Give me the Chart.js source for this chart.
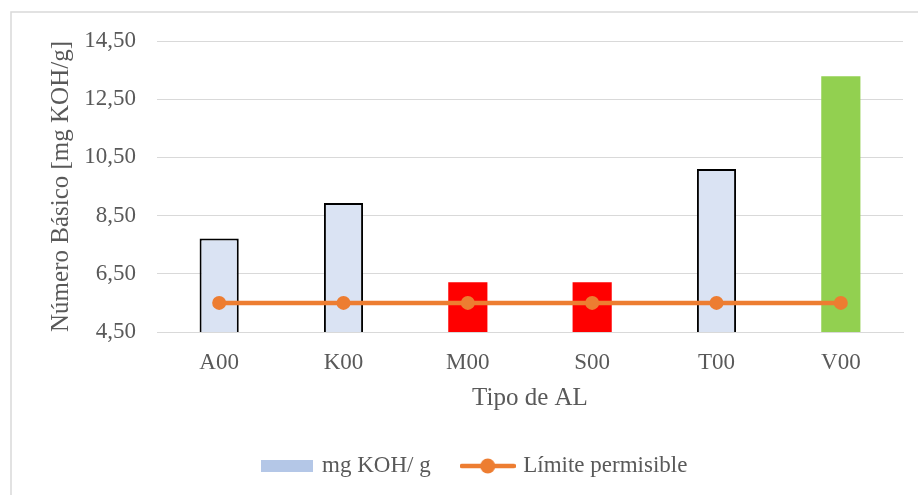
<!DOCTYPE html>
<html>
<head>
<meta charset="utf-8">
<title>Número Básico por tipo de AL</title>
<script src="https://cdn.jsdelivr.net/npm/chart.js@4/dist/chart.umd.min.js"></script>
<style>
  html, body { margin: 0; padding: 0; background: #ffffff; }
  canvas { display: block; }
</style>
</head>
<body>
<canvas id="chart" width="918" height="495"></canvas>
<script>
// Categories and measured values (mg KOH/g)
const categories = ['A00', 'K00', 'M00', 'S00', 'T00', 'V00'];
const basicNumber = [7.71, 8.93, 6.21, 6.21, 10.10, 13.29];
const permissibleLimit = [5.5, 5.5, 5.5, 5.5, 5.5, 5.5];
const yTicks = [4.5, 6.5, 8.5, 10.5, 12.5, 14.5];

// Per-bar styling
const barFill = ['#DAE3F3', '#DAE3F3', '#FF0000', '#FF0000', '#DAE3F3', '#92D050'];
const barEdge = ['#000000', '#000000', '#FF0000', '#FF0000', '#000000', '#92D050'];
const barEdgeWidth = [2, 2, 0, 0, 2, 0];

const FONT = '"Liberation Serif", "Times New Roman", serif';
const TEXT = '#595959';
const GRID = '#D9D9D9';
const ORANGE = '#ED7D31';

// Legend swatches
function makeBarSwatch() {
  const c = document.createElement('canvas');
  c.width = 52; c.height = 12;
  const g = c.getContext('2d');
  g.fillStyle = '#B4C7E7';
  g.fillRect(0, 0, 52, 12);
  return c;
}
function makeLineSwatch() {
  const c = document.createElement('canvas');
  c.width = 56; c.height = 16;
  const g = c.getContext('2d');
  g.strokeStyle = ORANGE;
  g.lineWidth = 4.5;
  g.lineCap = 'round';
  g.beginPath();
  g.moveTo(2, 8); g.lineTo(54, 8);
  g.stroke();
  g.fillStyle = ORANGE;
  g.beginPath();
  g.arc(28, 8, 7.5, 0, Math.PI * 2);
  g.fill();
  return c;
}
const barSwatch = makeBarSwatch();
const lineSwatch = makeLineSwatch();

// Light frame around the chart
const framePlugin = {
  id: 'frame',
  beforeDraw(chart) {
    const ctx = chart.ctx;
    ctx.save();
    ctx.fillStyle = '#ffffff';
    ctx.fillRect(0, 0, chart.width, chart.height);
    ctx.strokeStyle = GRID;
    ctx.lineWidth = 1.5;
    ctx.beginPath();
    ctx.moveTo(11, chart.height + 2);
    ctx.lineTo(11, 12);
    ctx.lineTo(chart.width + 2, 12);
    ctx.stroke();
    ctx.restore();
  }
};

const fmt = v => Number(v).toFixed(2).replace('.', ',');

new Chart(document.getElementById('chart'), {
  data: {
    labels: categories,
    datasets: [
      {
        type: 'line',
        label: 'Límite permisible',
        data: permissibleLimit,
        borderColor: ORANGE,
        backgroundColor: ORANGE,
        borderWidth: 4.5,
        pointRadius: 7,
        pointHoverRadius: 7,
        pointBackgroundColor: ORANGE,
        pointBorderColor: ORANGE,
        pointBorderWidth: 0,
        order: 0
      },
      {
        type: 'bar',
        label: 'mg KOH/ g',
        data: basicNumber,
        backgroundColor: barFill,
        borderColor: barEdge,
        borderWidth: barEdgeWidth,
        borderSkipped: 'start',
        categoryPercentage: 1,
        barPercentage: 0.315,
        order: 1
      }
    ]
  },
  options: {
    responsive: false,
    devicePixelRatio: 1,
    animation: false,
    layout: { padding: { left: 47, right: 15, top: 41, bottom: 7.5 } },
    plugins: {
      tooltip: { enabled: false },
      legend: {
        position: 'bottom',
        align: 'center',
        onClick: null,
        labels: {
          usePointStyle: true,
          pointStyleWidth: 48,
          padding: 33,
          color: TEXT,
          font: { family: FONT, size: 23 },
          generateLabels() {
            return [
              { text: 'mg KOH/ g', pointStyle: barSwatch, fillStyle: '#B4C7E7', strokeStyle: '#B4C7E7', lineWidth: 0, hidden: false, datasetIndex: 1, fontColor: TEXT },
              { text: 'Límite permisible', pointStyle: lineSwatch, fillStyle: ORANGE, strokeStyle: ORANGE, lineWidth: 0, hidden: false, datasetIndex: 0, fontColor: TEXT }
            ];
          }
        }
      }
    },
    scales: {
      x: {
        grid: { display: false },
        border: { display: true, color: GRID, width: 1 },
        ticks: { color: TEXT, padding: 9, font: { family: FONT, size: 23 }, maxRotation: 0 },
        title: {
          display: true,
          text: 'Tipo de AL',
          color: TEXT,
          font: { family: FONT, size: 25 },
          padding: { top: 0, bottom: 8 }
        },
        afterFit(scale) { scale.height = 89.5; }
      },
      y: {
        min: 4.5,
        max: 14.5,
        afterBuildTicks(scale) { scale.ticks = yTicks.map(v => ({ value: v })); },
        grid: { color: GRID, lineWidth: 1, drawTicks: false },
        border: { display: false },
        ticks: { color: TEXT, padding: 21, font: { family: FONT, size: 23 }, callback: v => fmt(v) },
        title: {
          display: true,
          text: 'Número Básico [mg KOH/g]',
          color: TEXT,
          font: { family: FONT, size: 25 },
          padding: { top: -1, bottom: 0 }
        },
        afterFit(scale) { scale.width = 110; }
      }
    }
  },
  plugins: [framePlugin]
});
</script>
</body>
</html>
